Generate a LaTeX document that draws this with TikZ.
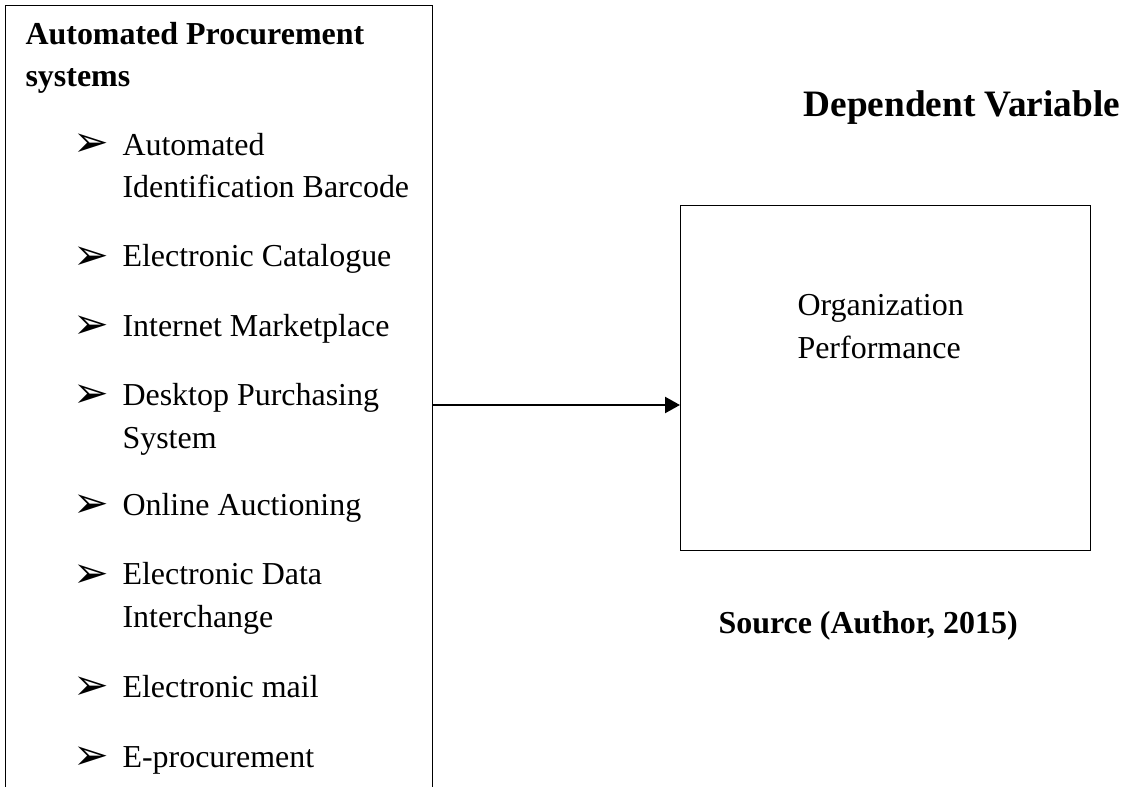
\documentclass[tikz,border=0pt]{standalone}
\usepackage{fontspec}
\setmainfont{Liberation Serif}
\newfontfamily\bulletfont{DejaVu Sans}
\usetikzlibrary{arrows.meta}

\begin{document}
\begin{tikzpicture}[x=0.0132cm, y=-0.0132cm,
        frame/.style={draw, line width=0.5pt, inner sep=0pt},
        heading/.style={anchor=base west, inner sep=0pt, align=left, font=\bfseries\fontsize{12}{15.9}\selectfont},
        entry/.style={anchor=base west, inner sep=0pt, align=left, font=\fontsize{12}{15.9}\selectfont},
        pointer/.style={anchor=base west, inner sep=0pt, font=\bulletfont\fontsize{16}{16}\selectfont},
        link/.style={-{Triangle[length=5.6pt, width=6pt]}, line width=0.8pt}
    ]
        \useasboundingbox (0,0) rectangle (1130,787);
        \clip (0,0) rectangle (1130,787);

        % independent side (multi-line texts sit on their last baseline)
        \node[frame, anchor=north west, minimum width=5.636cm, minimum height=11cm] (apsbox) at (5,5) {};
        \node[heading] (aps) at (25,87) {Automated Procurement\\systems};

        \node[pointer] (b1) at (73,157) {➢};
        \node[entry] (i1) at (122,198) {Automated\\Identification Barcode};
        \node[pointer] (b2) at (73,269) {➢};
        \node[entry] (i2) at (122,267) {Electronic Catalogue};
        \node[pointer] (b3) at (73,338) {➢};
        \node[entry] (i3) at (122,336) {Internet Marketplace};
        \node[pointer] (b4) at (73,408) {➢};
        \node[entry] (i4) at (122,448) {Desktop Purchasing\\System};
        \node[pointer] (b5) at (73,517) {➢};
        \node[entry] (i5) at (122,515) {Online Auctioning};
        \node[pointer] (b6) at (73,587) {➢};
        \node[entry] (i6) at (122,627) {Electronic Data\\Interchange};
        \node[pointer] (b7) at (73,699) {➢};
        \node[entry] (i7) at (122,697) {Electronic mail};
        \node[pointer] (b8) at (73,769) {➢};
        \node[entry] (i8) at (122,767) {E-procurement};

        % dependent side
        \node[heading, font=\bfseries\fontsize{14}{17}\selectfont] (dv) at (803,117) {Dependent Variable};
        \node[frame, anchor=north west, minimum width=5.412cm, minimum height=4.554cm] (perfbox) at (680,205) {};
        \node[entry] (perf) at (797,358) {Organization\\Performance};
        \node[heading] (src) at (718,633) {Source (Author, 2015)};

        \coordinate (lvl) at (0,405);
        \draw[link] (apsbox.east |- lvl) -- (perfbox.west |- lvl);
    \end{tikzpicture}
\end{document}
